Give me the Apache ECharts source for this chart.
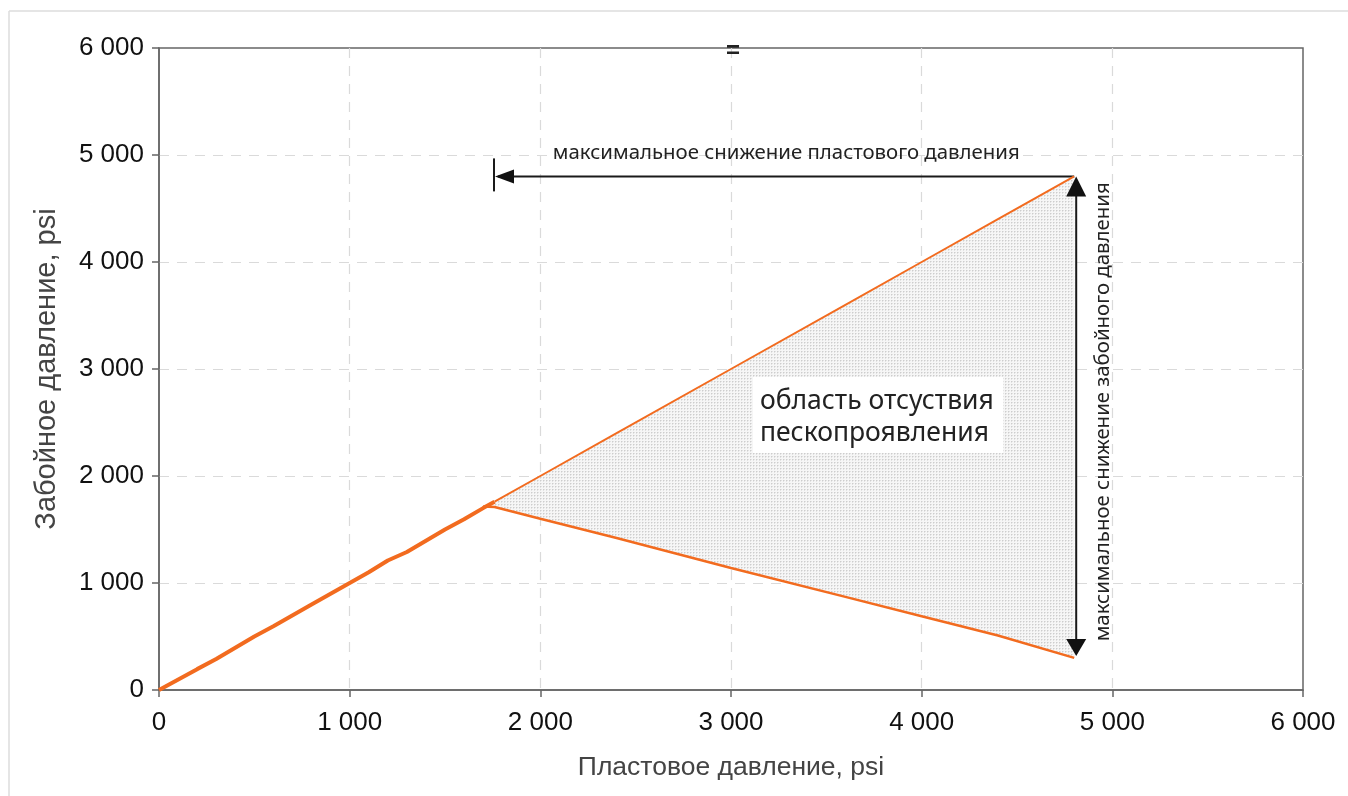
<!DOCTYPE html>
<html>
<head>
<meta charset="utf-8">
<script src="https://cdn.jsdelivr.net/npm/echarts@6/dist/echarts.min.js"></script>
<style>
html,body{margin:0;padding:0;background:#fff;}
#chart{width:1348px;height:796px;}
</style>
</head>
<body>
<div id="chart"></div>
<script>
// ---- data ----
const tickLabels = ['0', '1 000', '2 000', '3 000', '4 000', '5 000', '6 000'];
// common part of curve (formation pressure vs bottomhole pressure)
const commonX = [0, 200, 300, 500, 600, 800, 1000, 1100, 1200, 1300, 1500, 1600, 1700, 1760];
const commonY = [0, 195, 290, 500, 595, 800, 1000, 1100, 1210, 1290, 1500, 1595, 1700, 1760];
// upper boundary
const upperX = [1760, 2000, 2400, 3000, 3600, 4000, 4400, 4800];
const upperY = [1760, 2000, 2400, 3000, 3600, 4000, 4400, 4800];
// lower boundary
const lowerX = [1700, 1760, 2000, 2400, 3000, 3600, 4000, 4400, 4800];
const lowerY = [1715, 1710, 1600, 1420, 1140, 870, 690, 510, 300];
// annotations
const hArrow = [[4800, 4800], [1757, 4800]];      // horizontal arrow (from, to)
const vArrow = [[4800, 300], [4800, 4800]];       // vertical double arrow
const hArrowLabel = 'максимальное снижение пластового давления';
const hArrowLabelPos = [3290, 5020];
const vArrowLabel = 'максимальное снижение забойного давления';
const vArrowLabelPos = [4951, 2600];
const regionLabel = 'область отсуствия\nпескопроявления';
const regionBox = [[3115, 2925], [4427, 2215]];
const xName = 'Пластовое давление, psi';
const yName = 'Забойное давление, psi';

const ORANGE = '#f26b1f';

function pairs(xs, ys) { return xs.map((x, i) => [x, ys[i]]); }

// dotted pattern
const pat = document.createElement('canvas');
pat.width = 3; pat.height = 3;
const pctx = pat.getContext('2d');
pctx.fillStyle = '#f6f6f6';
pctx.fillRect(0, 0, 3, 3);
pctx.fillStyle = '#cdcdcd';
pctx.fillRect(0, 0, 1, 1);
pctx.fillStyle = '#e2e2e2';
pctx.fillRect(1, 0, 1, 1);
pctx.fillRect(0, 1, 1, 1);

const chart = echarts.init(document.getElementById('chart'));

function renderOverlay(params, api) {
  const children = [];
  // shaded region polygon
  const poly = [];
  upperX.forEach((x, i) => poly.push(api.coord([x, upperY[i]])));
  for (let i = lowerX.length - 1; i >= 1; i--) poly.push(api.coord([lowerX[i], lowerY[i]]));
  children.push({ type: 'polygon', shape: { points: poly }, style: { fill: { image: pat, repeat: 'repeat' } }, z2: 0 });

  // region label box
  const b0 = api.coord(regionBox[0]), b1 = api.coord(regionBox[1]);
  children.push({ type: 'rect', shape: { x: b0[0], y: b0[1], width: b1[0] - b0[0], height: b1[1] - b0[1] }, style: { fill: '#ffffff' }, z2: 5 });
  children.push({ type: 'text', x: b0[0] + 7, y: b0[1] + 8, style: { text: regionLabel, font: '26.5px "Noto Sans"', fill: '#222', lineHeight: 32, align: 'left', verticalAlign: 'top' }, z2: 6 });

  // horizontal arrow
  const h0 = api.coord(hArrow[0]), h1 = api.coord(hArrow[1]);
  children.push({ type: 'line', shape: { x1: h0[0], y1: h0[1], x2: h1[0] + 4, y2: h1[1] }, style: { stroke: '#1a1a1a', lineWidth: 2 }, z2: 10 });
  children.push({ type: 'polygon', shape: { points: [[h1[0] + 1, h1[1]], [h1[0] + 20, h1[1] - 7], [h1[0] + 20, h1[1] + 7]] }, style: { fill: '#111' }, z2: 10 });
  children.push({ type: 'line', shape: { x1: h1[0], y1: h1[1] - 18, x2: h1[0], y2: h1[1] + 15 }, style: { stroke: '#1a1a1a', lineWidth: 2 }, z2: 10 });
  const hl = api.coord(hArrowLabelPos);
  children.push({ type: 'text', x: hl[0], y: hl[1], style: { text: hArrowLabel, font: '20.4px "Noto Sans"', fill: '#222', align: 'center', verticalAlign: 'middle' }, z2: 10 });

  // vertical double arrow
  const v0 = api.coord(vArrow[0]), v1 = api.coord(vArrow[1]);
  children.push({ type: 'line', shape: { x1: v0[0] + 2, y1: v0[1] - 4, x2: v1[0] + 2, y2: v1[1] + 4 }, style: { stroke: '#1a1a1a', lineWidth: 2 }, z2: 10 });
  children.push({ type: 'polygon', shape: { points: [[v1[0] + 2, v1[1]], [v1[0] - 8, v1[1] + 20], [v1[0] + 12, v1[1] + 20]] }, style: { fill: '#111' }, z2: 10 });
  children.push({ type: 'polygon', shape: { points: [[v0[0] + 2, v0[1] - 2], [v0[0] - 8, v0[1] - 19], [v0[0] + 12, v0[1] - 19]] }, style: { fill: '#111' }, z2: 10 });
  const vl = api.coord(vArrowLabelPos);
  children.push({ type: 'text', x: vl[0], y: vl[1], rotation: Math.PI / 2, style: { text: vArrowLabel, font: '20.4px "Noto Sans"', fill: '#222', align: 'center', verticalAlign: 'middle' }, z2: 10 });

  return { type: 'group', children: children };
}

const axisCommon = {
  type: 'value', min: 0, max: 6000, interval: 1000,
  nameLocation: 'middle',
  axisLine: { show: true, onZero: false, lineStyle: { color: '#666', width: 1.5 } },
  axisTick: { show: true, length: 7, lineStyle: { color: '#666', width: 1.5 } },
  axisLabel: {
    fontFamily: 'Liberation Sans', fontSize: 26, color: '#111',
    formatter: v => tickLabels[Math.round(v / 1000)]
  },
  splitLine: { show: true, showMinLine: false, showMaxLine: false, lineStyle: { color: '#dadada', width: 1.2, type: [10, 8] } }
};

chart.setOption({
  animation: false,
  backgroundColor: '#fff',
  grid: { left: 159, right: 45, top: 48, bottom: 106, show: true, borderColor: '#666', borderWidth: 1.5 },
  xAxis: Object.assign({}, axisCommon, {
    name: xName, nameGap: 64,
    nameTextStyle: { fontFamily: 'Liberation Sans', fontSize: 26.5, color: '#444' },
    axisLabel: Object.assign({}, axisCommon.axisLabel, { margin: 20 })
  }),
  yAxis: Object.assign({}, axisCommon, {
    name: yName, nameGap: 98,
    nameTextStyle: { fontFamily: 'Liberation Sans', fontSize: 29, color: '#444' },
    axisLabel: Object.assign({}, axisCommon.axisLabel, { margin: 15 })
  }),
  graphic: [
    { type: 'line', shape: { x1: 9, y1: 11, x2: 1348, y2: 11 }, style: { stroke: '#dcdcdc', lineWidth: 1.5 }, silent: true },
    { type: 'line', shape: { x1: 9, y1: 11, x2: 9, y2: 796 }, style: { stroke: '#dcdcdc', lineWidth: 1.5 }, silent: true },
    { type: 'text', left: 726, top: 39, style: { text: '=', font: 'bold 24px "Liberation Sans"', fill: '#222' }, z: 10 }
  ],
  series: [
    { type: 'custom', renderItem: renderOverlay, data: [[0, 0]], clip: false, z: 1, silent: true },
    { type: 'line', data: pairs(commonX, commonY), symbol: 'none', lineStyle: { color: ORANGE, width: 4 }, z: 5 },
    { type: 'line', data: pairs(upperX, upperY), symbol: 'none', lineStyle: { color: ORANGE, width: 2 }, z: 5 },
    { type: 'line', data: pairs(lowerX, lowerY), symbol: 'none', lineStyle: { color: ORANGE, width: 2.5 }, z: 5 }
  ]
});
</script>
</body>
</html>
